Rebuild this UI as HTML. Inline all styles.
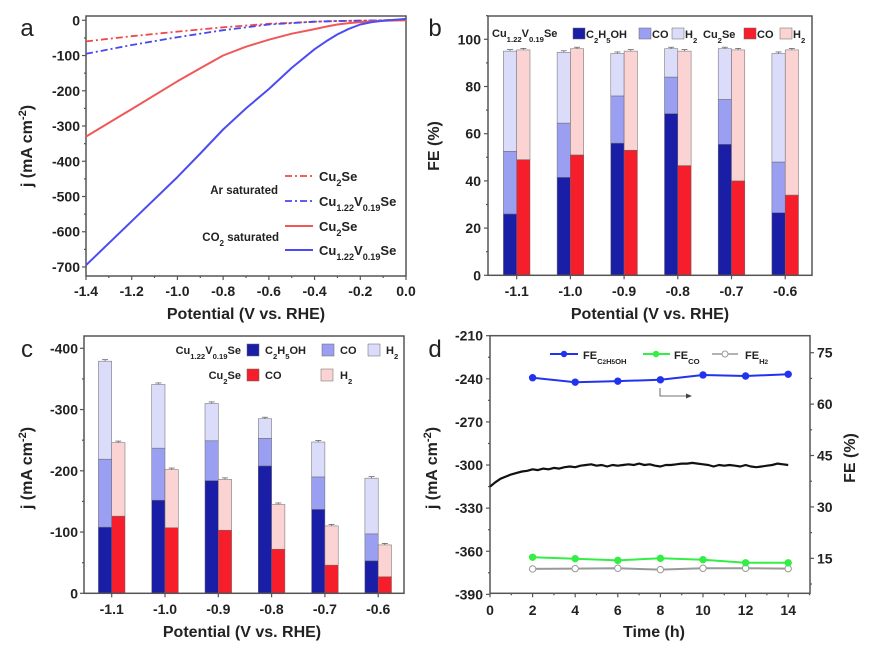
<!DOCTYPE html>
<html><head><meta charset="utf-8"><style>
html,body{margin:0;padding:0;background:#fff;}
svg{display:block;font-family:"Liberation Sans",Arial,sans-serif;font-weight:bold;}
</style></head>
<body>
<svg id="fig" width="876" height="662" viewBox="0 0 876 662" xmlns="http://www.w3.org/2000/svg"></svg>
<script>
// ---- Panel a data ----
const aPot = [-1.4,-1.2,-1.0,-0.8,-0.6,-0.5,-0.4,-0.3,-0.2,-0.1,0.0];
const aArCu2Se = [-60,-45,-32,-20,-10,-7,-4,-2,-1,0,0];
const aArCuV = [-95,-70,-48,-28,-12,-8,-4,-2,-1,0,2];
const aPotCO2 = [-1.4,-1.2,-1.0,-0.9,-0.8,-0.7,-0.6,-0.5,-0.4,-0.35,-0.3,-0.25,-0.2,-0.15,-0.1,0.0];
const aCO2Cu2Se = [-330,-252,-173,-136,-100,-75,-55,-38,-25,-18,-12,-8,-5,-3,-1,0];
const aCO2CuV = [-695,-570,-445,-378,-310,-250,-195,-135,-82,-60,-40,-24,-12,-5,-1,4];
// ---- Panel b data ----
const cats = ['-1.1','-1.0','-0.9','-0.8','-0.7','-0.6'];
const bCuV_Eth = [26,41.5,56,68.5,55.5,26.5];
const bCuV_CO = [26.5,23,20,15.5,19,21.5];
const bCuV_H2 = [42.5,30,18,12,21.5,46];
const bCu2Se_CO = [49,51,53,46.5,40,34];
const bCu2Se_H2 = [46.5,45,42,48.5,55.5,61.5];
// ---- Panel c data ----
const cCuV_Eth = [108,152,184,208,137,53];
const cCuV_CO = [111,85,65,45,53,44];
const cCuV_H2 = [160,104,61,32,57,91];
const cCu2Se_CO = [126,107,103,72,46,27];
const cCu2Se_H2 = [120,95,83,73,64,52];
// ---- Panel d data ----
const dTimeFE = [2,4,6,8,10,12,14];
const dFeEth = [67.7,66.4,66.7,67.1,68.5,68.2,68.7];
const dFeCO = [15.3,14.9,14.4,15.0,14.6,13.7,13.7];
const dFeH2 = [11.9,12.0,12.1,11.7,12.1,12.1,12.0];
const dTimeJ = [0,0.25,0.5,0.75,1,1.25,1.5,1.75,2,2.25,2.5,2.75,3,3.25,3.5,3.75,4,4.25,4.5,4.75,5,5.25,5.5,5.75,6,6.25,6.5,6.75,7,7.25,7.5,7.75,8,8.25,8.5,8.75,9,9.25,9.5,9.75,10,10.25,10.5,10.75,11,11.25,11.5,11.75,12,12.25,12.5,12.75,13,13.25,13.5,13.75,14];
const dJ = [-315,-312,-309.5,-308,-306.5,-305.5,-304.5,-304,-303,-303.5,-302.5,-303,-302,-302.5,-301.5,-301,-301.5,-300.5,-300,-299.5,-300.5,-300,-301,-300,-300.5,-300,-299.5,-300,-299,-300,-299.5,-300.5,-301,-300,-300,-299.5,-299,-299,-298.5,-299,-299.5,-300,-301,-300,-300.5,-300,-300.5,-301,-300,-301,-301.5,-301,-300.5,-300,-299,-299.5,-300];

const svg = document.getElementById('fig');
const NS = 'http://www.w3.org/2000/svg';
const INK = '#222';
function mk(tag, attrs, name, parent){
  const el = document.createElementNS(NS, tag);
  for (const k in attrs) el.setAttribute(k, attrs[k]);
  
  
  (parent||svg).appendChild(el);
  return el;
}
function txt(x,y,html,size,anchor,name,extra){
  const a = Object.assign({x:x,y:y,'font-size':size,'text-anchor':anchor||'middle',fill:INK}, extra||{});
  const t = mk('text', a, name);
  t.innerHTML = html;
  return t;
}
const sub = s => '<tspan font-size="70%" baseline-shift="sub">'+s+'</tspan>';
const CUV = 'Cu'+sub('1.22')+'V'+sub('0.19')+'Se';
const CU2 = 'Cu'+sub('2')+'Se';
function frame(x0,y0,x1,y1,name){
  mk('rect',{x:x0,y:y0,width:x1-x0,height:y1-y0,fill:'none',stroke:'#555','stroke-width':1.5},name);
}
function line(x1,y1,x2,y2,name,stroke,w,extra){
  return mk('line',Object.assign({x1:x1,y1:y1,x2:x2,y2:y2,stroke:stroke||'#555','stroke-width':w||1.2},extra||{}),name);
}
function poly(xs,ys,sx,sy,name,stroke,w,dash){
  const pts = xs.map((v,i)=>sx(v).toFixed(1)+','+sy(ys[i]).toFixed(1)).join(' ');
  const a = {points:pts,fill:'none',stroke:stroke,'stroke-width':w,'stroke-linejoin':'round'};
  if (dash) a['stroke-dasharray']=dash;
  return mk('polyline',a,name);
}

// ================= Panel a =================
const xa = v => 86 + (v+1.4)/1.4*320;
const ya = v => 20.3 - v*0.3524;
frame(86,16,406,276,'panel-a-frame');
for (let v=0; v>=-700; v-=50){
  const major = (v%100===0);
  line(86,ya(v),86-(major?4:2),ya(v),'a-y-tick');
  if (major) txt(80,ya(v)+5,String(v),14,'end','a-y-tick-label');
}
for (let i=0;i<=14;i++){
  const v=-1.4+i*0.1; const major=(i%2===0);
  line(xa(v),276,xa(v),276+(major?4:2),'a-x-tick');
  if (major) txt(xa(v),296,(Math.abs(v)<1e-9?'0.0':v.toFixed(1)),14,'middle','a-x-tick-label');
}
txt(246,319,'Potential (V vs. RHE)',16,'middle','a-x-axis-title');
txt(32,146,'j (mA cm<tspan font-size="70%" baseline-shift="super">-2</tspan>)',16,'middle','a-y-axis-title',{transform:'rotate(-90 32 146)'});
txt(27,36,'a',24,'middle','panel-label-a',{'font-weight':'normal'});
poly(aPot,aArCu2Se,xa,ya,'a-line-ar-cu2se','#f04848',1.8,'7 3 2 3');
poly(aPot,aArCuV,xa,ya,'a-line-ar-cuvse','#4848f0',1.8,'7 3 2 3');
poly(aPotCO2,aCO2Cu2Se,xa,ya,'a-line-co2-cu2se','#f05858',2);
poly(aPotCO2,aCO2CuV,xa,ya,'a-line-co2-cuvse','#4c4cf2',2);
line(285,176,313,176,'a-legend-swatch-ar-cu2se','#f04848',1.8,{'stroke-dasharray':'7 3 2 3'});
line(285,201,313,201,'a-legend-swatch-ar-cuvse','#4848f0',1.8,{'stroke-dasharray':'7 3 2 3'});
line(285,226,313,226,'a-legend-swatch-co2-cu2se','#f05858',2);
line(285,250,313,250,'a-legend-swatch-co2-cuvse','#4c4cf2',2);
txt(319,181,CU2,13,'start','a-legend-label');
txt(319,206,CUV,13,'start','a-legend-label');
txt(319,231,CU2,13,'start','a-legend-label');
txt(319,255,CUV,13,'start','a-legend-label');
txt(278,194,'Ar saturated',11.5,'end','a-legend-group-ar');
txt(279,241,'CO'+sub('2')+' saturated',11.5,'end','a-legend-group-co2');

// ================= Panel b =================
const xb = i => 516.7 + i*53.7;
const yb = v => 275.3 - v*2.36;
const BW = 13.3;
const C_ETH='#1a1ea6', C_BCO='#9a9ff2', C_BH2='#dadcfa', C_RCO='#f51e2a', C_RH2='#fcd3d3';
function stack(xl, base, vals, cols, sy, pfx){
  let acc = base;
  vals.forEach((v,k)=>{
    const top = acc+v;
    mk('rect',{x:xl,y:sy(top),width:BW,height:sy(acc)-sy(top),fill:cols[k],stroke:'#666','stroke-width':0.5},pfx+'-seg-'+k);
    line(xl+BW/2-3,sy(top)-1.5,xl+BW/2+3,sy(top)-1.5,pfx+'-error-cap','#666',0.8);
    line(xl+BW/2,sy(top)-1.5,xl+BW/2,sy(top),pfx+'-error-bar','#666',0.8);
    acc = top;
  });
}
cats.forEach((c,i)=>{
  stack(xb(i)-BW, 0, [bCuV_Eth[i],bCuV_CO[i],bCuV_H2[i]], [C_ETH,C_BCO,C_BH2], yb, 'b-bar-cuvse-'+c);
  stack(xb(i), 0, [bCu2Se_CO[i],bCu2Se_H2[i]], [C_RCO,C_RH2], yb, 'b-bar-cu2se-'+c);
});
frame(488,16,812,275.3,'panel-b-frame');
for (let v=0; v<=110; v+=10){
  const major=(v%20===0);
  line(488,yb(v),488-(major?4:2),yb(v),'b-y-tick');
  if (major) txt(481,yb(v)+5,String(v),14,'end','b-y-tick-label');
}
cats.forEach((c,i)=>{
  line(xb(i),275.3,xb(i),279.3,'b-x-tick');
  txt(xb(i),296,c,14,'middle','b-x-tick-label');
});
txt(650,319,'Potential (V vs. RHE)',16,'middle','b-x-axis-title');
txt(439,146,'FE (%)',16,'middle','b-y-axis-title',{transform:'rotate(-90 439 146)'});
txt(435,36,'b',24,'middle','panel-label-b',{'font-weight':'normal'});
txt(492,37,CUV,11,'start','b-legend-group-cuvse');
mk('rect',{x:573,y:28,width:12,height:11,fill:C_ETH,stroke:'#666','stroke-width':0.5},'b-legend-swatch-eth');
txt(586,38,'C'+sub('2')+'H'+sub('5')+'OH',11,'start','b-legend-label-eth');
mk('rect',{x:639,y:28,width:12,height:11,fill:C_BCO,stroke:'#666','stroke-width':0.5},'b-legend-swatch-co');
txt(652,38,'CO',11,'start','b-legend-label-co');
mk('rect',{x:672,y:28,width:12,height:11,fill:C_BH2,stroke:'#666','stroke-width':0.5},'b-legend-swatch-h2');
txt(685,38,'H'+sub('2'),11,'start','b-legend-label-h2');
txt(703,38,CU2,11,'start','b-legend-group-cu2se');
mk('rect',{x:744,y:28,width:12,height:11,fill:C_RCO,stroke:'#666','stroke-width':0.5},'b-legend-swatch-cu2se-co');
txt(757,38,'CO',11,'start','b-legend-label-cu2se-co');
mk('rect',{x:780,y:28,width:12,height:11,fill:C_RH2,stroke:'#666','stroke-width':0.5},'b-legend-swatch-cu2se-h2');
txt(793,38,'H'+sub('2'),11,'start','b-legend-label-cu2se-h2');

// ================= Panel c =================
const xc = i => 111.7 + i*53.3;
const yc = v => 593.3 - v*0.6125;
cats.forEach((c,i)=>{
  stack(xc(i)-BW, 0, [cCuV_Eth[i],cCuV_CO[i],cCuV_H2[i]], [C_ETH,C_BCO,C_BH2], yc, 'c-bar-cuvse-'+c);
  stack(xc(i), 0, [cCu2Se_CO[i],cCu2Se_H2[i]], [C_RCO,C_RH2], yc, 'c-bar-cu2se-'+c);
});
frame(84,336,404,593.3,'panel-c-frame');
for (let v=0; v<=400; v+=50){
  const major=(v%100===0);
  line(84,yc(v),84-(major?4:2),yc(v),'c-y-tick');
  if (major) txt(78,yc(v)+5,v===0?'0':'-'+v,14,'end','c-y-tick-label');
}
cats.forEach((c,i)=>{
  line(xc(i),593.3,xc(i),597.3,'c-x-tick');
  txt(xc(i),614,c,14,'middle','c-x-tick-label');
});
txt(242,637,'Potential (V vs. RHE)',16,'middle','c-x-axis-title');
txt(32,468,'j (mA cm<tspan font-size="70%" baseline-shift="super">-2</tspan>)',16,'middle','c-y-axis-title',{transform:'rotate(-90 32 468)'});
txt(27,357,'c',24,'middle','panel-label-c',{'font-weight':'normal'});
txt(241,354,CUV,11,'end','c-legend-group-cuvse');
mk('rect',{x:247,y:344,width:12,height:12,fill:C_ETH,stroke:'#666','stroke-width':0.5},'c-legend-swatch-eth');
txt(265,354,'C'+sub('2')+'H'+sub('5')+'OH',11,'start','c-legend-label-eth');
mk('rect',{x:322,y:344,width:12,height:12,fill:C_BCO,stroke:'#666','stroke-width':0.5},'c-legend-swatch-co');
txt(340,354,'CO',11,'start','c-legend-label-co');
mk('rect',{x:368,y:344,width:12,height:12,fill:C_BH2,stroke:'#666','stroke-width':0.5},'c-legend-swatch-h2');
txt(386,354,'H'+sub('2'),11,'start','c-legend-label-h2');
txt(241,379,CU2,11,'end','c-legend-group-cu2se');
mk('rect',{x:247,y:369,width:12,height:12,fill:C_RCO,stroke:'#666','stroke-width':0.5},'c-legend-swatch-cu2se-co');
txt(265,379,'CO',11,'start','c-legend-label-cu2se-co');
mk('rect',{x:321,y:369,width:12,height:12,fill:C_RH2,stroke:'#666','stroke-width':0.5},'c-legend-swatch-cu2se-h2');
txt(340,379,'H'+sub('2'),11,'start','c-legend-label-cu2se-h2');

// ================= Panel d =================
const xd = v => 490 + v*21.3;
const ydl = v => 335.7 + (-210 - v)*1.437;
const ydr = v => 352.7 + (75 - v)*3.427;
frame(490,335.7,810,593.3,'panel-d-frame');
for (let v=-210; v>=-390; v-=15){
  const major=((v+210)%30===0);
  line(490,ydl(v),490-(major?4:2),ydl(v),'d-y-left-tick');
  if (major) txt(483,ydl(v)+5,String(v),14,'end','d-y-left-tick-label');
}
for (let v=75; v>=7.5; v-=7.5){
  const major=(Math.abs(v%15)<1e-9);
  line(810,ydr(v),810+(major?4:2),ydr(v),'d-y-right-tick');
  if (major) txt(817,ydr(v)+5,String(v),14,'start','d-y-right-tick-label');
}
for (let v=0; v<=15; v++){
  const major=(v%2===0);
  line(xd(v),593.3,xd(v),593.3+(major?4:2),'d-x-tick');
  if (major && v<=14) txt(xd(v),615,String(v),14,'middle','d-x-tick-label');
}
txt(654,637,'Time (h)',16,'middle','d-x-axis-title');
txt(855,458,'FE (%)',16,'middle','d-y-right-axis-title',{transform:'rotate(-90 855 458)'});
txt(437,468,'j (mA cm<tspan font-size="70%" baseline-shift="super">-2</tspan>)',16,'middle','d-y-left-axis-title',{transform:'rotate(-90 437 468)'});
txt(435,357,'d',24,'middle','panel-label-d',{'font-weight':'normal'});
poly(dTimeJ,dJ,xd,ydl,'d-current-line','#111',2.2);
function markers(ys,color,name,fillc){
  poly(dTimeFE,ys,xd,ydr,name+'-line',color,2);
  dTimeFE.forEach((t,i)=>{
    mk('circle',{cx:xd(t),cy:ydr(ys[i]),r:3.2,fill:fillc||color,stroke:color,'stroke-width':1},name+'-point');
  });
}
markers(dFeH2,'#999','d-fe-h2','#fff');
markers(dFeCO,'#33ee44','d-fe-co');
markers(dFeEth,'#2233ee','d-fe-ethanol');
line(550,354,578,354,'d-legend-swatch-ethanol','#2233ee',2);
mk('circle',{cx:564,cy:354,r:3.2,fill:'#2233ee'},'d-legend-marker-ethanol');
txt(583,359,'FE'+sub('C'+'<tspan font-size="80%">2</tspan>'+'H<tspan font-size="80%">5</tspan>OH'),11,'start','d-legend-label-ethanol');
line(643,354,670,354,'d-legend-swatch-co','#33ee44',2);
mk('circle',{cx:656,cy:354,r:3.2,fill:'#33ee44'},'d-legend-marker-co');
txt(674,359,'FE'+sub('CO'),11,'start','d-legend-label-co');
line(712,354,738,354,'d-legend-swatch-h2','#999',1.5);
mk('circle',{cx:725,cy:354,r:3,fill:'#fff',stroke:'#999'},'d-legend-marker-h2');
txt(745,359,'FE'+sub('H<tspan font-size="80%">2</tspan>'),11,'start','d-legend-label-h2');
mk('polyline',{points:'660,388 660,396 690,396',fill:'none',stroke:'#444','stroke-width':0.8},'d-axis-arrow');
mk('polygon',{points:'692,396 686,393.5 686,398.5',fill:'#444'},'d-axis-arrow-head');
</script>
</body></html>
